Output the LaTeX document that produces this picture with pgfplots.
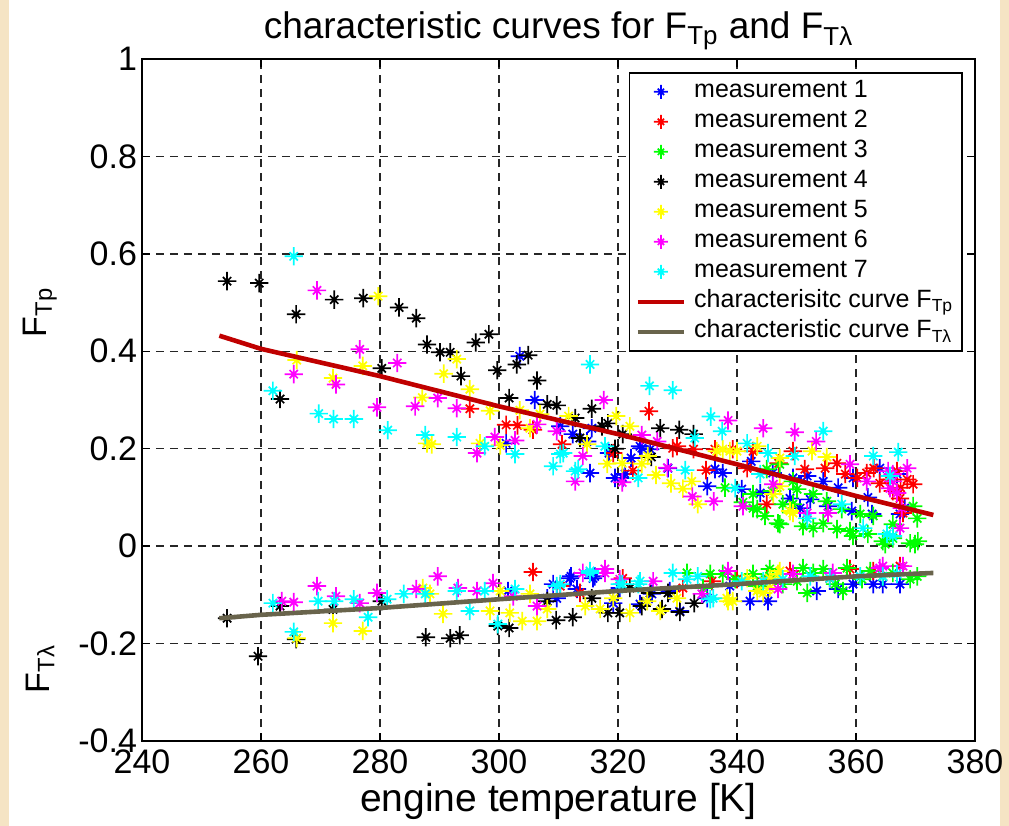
\documentclass[border=0pt]{standalone}
\usepackage{fontspec}
\setmainfont{Liberation Sans}
\usepackage{pgfplots}
\pgfplotsset{compat=1.18}

\definecolor{fitred}{RGB}{192,0,0}
\definecolor{fitolive}{RGB}{105,100,76}
\definecolor{framebeige}{RGB}{245,228,196}
\definecolor{mblue}{RGB}{0,0,255}
\definecolor{mred}{RGB}{255,0,0}
\definecolor{mgreen}{RGB}{0,255,0}
\definecolor{myellow}{RGB}{255,255,0}
\definecolor{mmagenta}{RGB}{255,0,255}
\definecolor{mcyan}{RGB}{0,255,255}

% matlab-like '*' marker: long plus, short cross
\pgfdeclareplotmark{mstar}{%
  \pgfpathmoveto{\pgfqpoint{-\pgfplotmarksize}{0pt}}%
  \pgfpathlineto{\pgfqpoint{\pgfplotmarksize}{0pt}}%
  \pgfpathmoveto{\pgfqpoint{0pt}{-\pgfplotmarksize}}%
  \pgfpathlineto{\pgfqpoint{0pt}{\pgfplotmarksize}}%
  \pgfpathmoveto{\pgfqpoint{-0.45\pgfplotmarksize}{-0.45\pgfplotmarksize}}%
  \pgfpathlineto{\pgfqpoint{0.45\pgfplotmarksize}{0.45\pgfplotmarksize}}%
  \pgfpathmoveto{\pgfqpoint{-0.45\pgfplotmarksize}{0.45\pgfplotmarksize}}%
  \pgfpathlineto{\pgfqpoint{0.45\pgfplotmarksize}{-0.45\pgfplotmarksize}}%
  \pgfusepathqstroke}

\pgfplotsset{
  meas/.style={only marks, mark=mstar, mark size=4.6pt,
    mark options={line width=0.85pt, #1}, color=#1,
    legend image code/.code={%
      \path (0pt,0pt) (25.5pt,0pt);
      \draw[##1, only marks, mark size=3.5pt] plot coordinates {(11.5pt,0pt)};}},
  fit/.style={color=#1, line width=2.3pt, no marks,
    legend image code/.code={%
      \path (0pt,0pt) (25.5pt,0pt);
      \draw[##1] (0pt,0pt) -- (23pt,0pt);}},
}

\begin{document}
\begin{tikzpicture}
\useasboundingbox (-71pt,-42.5pt) rectangle (433.5pt,370.5pt);
\fill[framebeige] (-71pt,-42.5pt) rectangle (-66.5pt,370.5pt);
\fill[framebeige] (429pt,-42.5pt) rectangle (433.5pt,370.5pt);

\begin{axis}[
  scale only axis, width=416.5pt, height=341pt,
  xmin=240, xmax=380, ymin=-0.4, ymax=1,
  xtick={240,260,280,300,320,340,360,380},
  ytick={-0.4,-0.2,0,0.2,0.4,0.6,0.8,1},
  /pgf/number format/assume math mode=true,
  tick label style={font=\fontsize{17}{20}\selectfont},
  yticklabel style={xshift=1pt},
  xticklabel style={yshift=-1pt},
  grid=major,
  major grid style={black!85, dash pattern=on 4pt off 3pt, line width=0.7pt},
  tick align=inside, major tick length=4pt,
  tick style={black, line width=0.7pt},
  axis line style={line width=0.8pt},
  title={characteristic curves for F\textsubscript{Tp} and F\textsubscript{Tλ}},
  title style={font=\fontsize{18.5}{22}\selectfont, at={(0.5,1)}, anchor=base, yshift=4pt},
  xlabel={engine temperature [K]},
  xlabel style={font=\fontsize{19.5}{23}\selectfont, at={(0.5,0)}, anchor=base, yshift=-35pt},
  legend style={at={(1,1)}, anchor=north east, xshift=-6pt, yshift=-6.5pt,
    draw=black, line width=0.8pt, font=\fontsize{12.5}{15}\selectfont,
    cells={anchor=west}, inner xsep=3pt, inner ysep=2pt,
    nodes={inner sep=1.5pt, text height=9pt, text depth=3pt}},
  clip mode=individual,
]

% measurement 1
\addplot[meas=mblue] coordinates {
(303.5,0.39) (306,0.30) (301.2,0.211) (310.3,0.246) (312.4,0.23) (315.3,0.15)
(322.2,0.181) (324,0.201) (325.4,0.199) (335,0.123) (336.3,0.158) (319.5,0.14)
(321.2,0.148) (314.8,0.215) (318.5,0.191) (315.6,0.242) (320.8,0.14) (323.7,0.205)
(328.4,0.16) (337.6,0.15) (340.8,0.117) (342.4,0.174) (343.9,0.109) (348.9,0.098)
(350.6,0.078) (352.3,0.096) (354.5,0.133) (355.3,0.082) (359.3,0.072) (362.7,0.066)
(364,0.16) (367.4,0.066) (368.2,0.078) (366.9,0.148) (359.5,0.14) (349.4,0.14)
(351.8,0.144) (346,0.15) (357,0.12) (362,0.1)
(308.1,-0.107) (311.9,-0.066) (315.8,-0.066) (313.1,-0.088) (319.2,-0.117)
(323.7,-0.119) (330.4,-0.133) (309.1,-0.078) (320.3,-0.086) (335,-0.107)
(301.5,-0.092) (312.1,-0.062) (316.1,-0.062) (325.7,-0.098) (342.2,-0.113)
(345.2,-0.113) (353.4,-0.092) (357,-0.088) (359.5,-0.078) (362.9,-0.078)
(364.5,-0.078) (367.4,-0.078) (309.7,-0.107) (328.7,-0.092) (338.8,-0.082)
};
\addlegendentry{measurement 1}

% measurement 2
\addplot[meas=mred] coordinates {
(295.1,0.282) (301.2,0.249) (303.1,0.248) (305.7,0.239) (310.6,0.209) (325.2,0.277)
(322.5,0.155) (329.2,0.201) (332.7,0.199) (334.8,0.156) (319.2,0.191) (336.3,0.199)
(341.7,0.16) (345,0.086) (342.7,0.195) (351.4,0.158) (354.8,0.16) (356.8,0.17)
(358.2,0.148) (360.2,0.14) (361.8,0.15) (364,0.129) (366.9,0.154) (368.6,0.137)
(369.6,0.127) (367.4,0.098) (366.2,0.113) (365.4,0.137) (367.9,0.068) (349.4,0.195)
(339.3,0.199) (329.9,0.205) (347,0.17) (363,0.16) (367.5,0.12)
(305.7,-0.053) (313.6,-0.096) (320.8,-0.066) (335.8,-0.072) (348.9,-0.051)
(355.6,-0.066) (367.4,-0.041) (345,-0.066) (359,-0.047) (362.9,-0.051)
(340,-0.068) (330.9,-0.086) (310.3,-0.082)
};
\addlegendentry{measurement 2}

% measurement 3
\addplot[meas=mgreen] coordinates {
(342.7,0.078) (344.7,0.062) (347.2,0.045) (351.1,0.041) (352.8,0.037) (354.5,0.047)
(356.8,0.035) (359,0.031) (359.5,0.021) (362,0.025) (364.5,0.01) (366.2,0.016)
(369.1,0.006) (370.4,0.01) (370.3,0.057) (369.6,0.082) (347.2,0.168) (349.4,0.133)
(352.8,0.107) (355.1,0.092) (345,0.158) (345.9,0.113) (342.7,0.107) (349.4,0.086)
(357.6,0.076) (360.7,0.066) (362.9,0.062) (366.2,0.045) (343.4,0.076) (346.9,0.047)
(364.9,0.004) (369.9,0.004) (347.7,0.086) (350.1,0.117) (338,0.12) (341,0.09)
(343.4,-0.082) (345.5,-0.062) (347.7,-0.078) (350.1,-0.072) (351.8,-0.096)
(352.8,-0.055) (356.5,-0.078) (357.8,-0.092) (361,-0.068) (362.4,-0.051)
(364.5,-0.062) (366.2,-0.055) (369.1,-0.068) (370.3,-0.062) (345.5,-0.047)
(342.7,-0.057) (339.7,-0.068) (335.5,-0.057) (337.6,-0.057) (358.5,-0.045)
(331.6,-0.055) (334.3,-0.086) (351.1,-0.045) (354.5,-0.047)
};
\addlegendentry{measurement 3}

% measurement 4
\addplot[meas=black] coordinates {
(254.3,0.544) (259.7,0.54) (265.9,0.476) (272.3,0.506) (277.2,0.509) (283.2,0.49)
(286.1,0.468) (287.9,0.414) (280.3,0.365) (263.2,0.302) (290.1,0.398) (291.8,0.398)
(293.6,0.349) (296.1,0.418) (298.3,0.435) (299.7,0.361) (303,0.373) (304.9,0.392)
(306.4,0.34) (301.7,0.304) (308.1,0.291) (309.7,0.289) (312.8,0.263) (315.6,0.282)
(313.6,0.222) (317.3,0.246) (318.3,0.252) (320.8,0.23) (327.1,0.242) (330.3,0.239)
(332.7,0.23) (319.5,0.2) (325.6,0.183)
(254.3,-0.148) (259.5,-0.226) (265.9,-0.191) (263.2,-0.123) (280.3,-0.113)
(287.7,-0.187) (272.1,-0.13) (291.8,-0.189) (293.4,-0.183) (301.7,-0.168)
(299.8,-0.164) (309.6,-0.152) (312.4,-0.146) (318.3,-0.137) (320.3,-0.137)
(324,-0.123) (327.4,-0.129) (330.4,-0.135) (332.8,-0.117) (315.6,-0.107)
(308.1,-0.113) (328.4,-0.096) (325.4,-0.096) (322,-0.086)
};
\addlegendentry{measurement 4}

% measurement 5
\addplot[meas=myellow] coordinates {
(279.7,0.513) (277.1,0.37) (266,0.382) (272.1,0.345) (287.1,0.305) (287.9,0.211)
(292.9,0.384) (290.7,0.354) (295.1,0.322) (296.8,0.211) (298.5,0.278) (303.5,0.279)
(306.9,0.271) (311.7,0.267) (300.2,0.207) (305.2,0.242) (314.8,0.209) (319.7,0.267)
(322,0.246) (318.2,0.169) (320.7,0.17) (324,0.169) (326.4,0.146) (328.9,0.129)
(330.9,0.118) (333.4,0.086) (325,0.185) (332.4,0.133) (337.6,0.199) (343.4,0.205)
(346.1,0.107) (347.2,0.123) (349.4,0.068) (352.6,0.195) (355.1,0.183) (336.6,0.195)
(338.8,0.195) (340,0.195) (347.2,0.181) (348.9,0.072) (288.7,0.209)
(272.1,-0.158) (277.1,-0.174) (266,-0.189) (287.2,-0.086) (288.4,-0.098)
(290.6,-0.139) (298.5,-0.133) (300.2,-0.092) (301.8,-0.137) (303.9,-0.154)
(306.4,-0.154) (305.2,-0.098) (308.1,-0.129) (314.5,-0.123) (317,-0.129)
(322,-0.137) (327.1,-0.133) (329.9,-0.107) (338.3,-0.107) (339.3,-0.113)
(343.4,-0.092) (345.5,-0.086) (324.9,-0.113) (319.2,-0.107) (345.5,-0.066)
(347.2,-0.051) (341.7,-0.066) (338.5,-0.113) (346.9,-0.057) (344.4,-0.096)
};
\addlegendentry{measurement 5}

% measurement 6
\addplot[meas=mmagenta] coordinates {
(269.4,0.525) (276.6,0.404) (282.9,0.376) (265.5,0.353) (272.6,0.332) (279.5,0.285)
(285.9,0.287) (289.7,0.304) (292.9,0.283) (296.3,0.191) (299.3,0.224) (302.7,0.217)
(306.4,0.25) (309.7,0.236) (314.1,0.185) (317.6,0.3) (320.7,0.131) (324,0.228)
(326.6,0.215) (328.3,0.161) (332.5,0.102) (336.1,0.092) (338.5,0.258) (344.4,0.242)
(349.7,0.234) (353.3,0.215) (341,0.082) (351.8,0.068) (355.3,0.068) (359,0.168)
(365.4,0.154) (366.2,0.133) (366.9,0.109) (367.7,0.078) (367.4,0.037) (366.2,0.148)
(365.7,0.119) (368.6,0.16) (361.8,0.133) (346.1,0.127) (312.8,0.133)
(269.4,-0.082) (263.5,-0.113) (265.5,-0.115) (272.6,-0.103) (276.6,-0.117)
(279.5,-0.096) (286.1,-0.088) (289.7,-0.062) (293.1,-0.086) (296.3,-0.092)
(299,-0.076) (302.4,-0.103) (306.4,-0.123) (314.1,-0.055) (317.8,-0.055)
(325.9,-0.072) (320.3,-0.068) (317.8,-0.047) (338.5,-0.051) (334.1,-0.098)
(346.9,-0.088) (349.4,-0.057) (367.9,-0.041) (364,-0.045) (364.5,-0.041)
(356.1,-0.055)
};
\addlegendentry{measurement 6}

% measurement 7
\addplot[meas=mcyan] coordinates {
(265.5,0.595) (262,0.319) (269.7,0.272) (272.2,0.261) (275.6,0.261) (281.3,0.238)
(287.6,0.228) (292.9,0.224) (297.6,0.205) (302.7,0.189) (309.1,0.164) (310.8,0.191)
(312.8,0.154) (315.3,0.373) (317.8,0.205) (323.4,0.14) (325.3,0.329) (329.2,0.32)
(335.6,0.266) (331.3,0.156) (337.5,0.236) (332.9,0.222) (339.7,0.119) (341.7,0.211)
(345.2,0.191) (349.7,0.185) (354.5,0.236) (357.6,0.086) (361.2,0.037) (362.9,0.185)
(365.2,0.025) (366.2,0.021) (367.1,0.193) (365.7,0.144) (313.3,0.158) (310.3,0.189)
(343.9,0.148) (351.8,0.057)
(262,-0.117) (265.5,-0.176) (269.6,-0.113) (272.3,-0.113) (275.6,-0.109)
(278,-0.146) (281.2,-0.109) (284,-0.098) (287.6,-0.098) (292.9,-0.092)
(295.1,-0.133) (297.6,-0.092) (299.8,-0.16) (302.7,-0.088) (310.3,-0.078)
(315.3,-0.055) (320.3,-0.078) (323.4,-0.078) (329.2,-0.055) (333.4,-0.062)
(336,-0.107) (315.3,-0.051) (331.6,-0.068) (335.5,-0.109) (340.8,-0.072)
(344.4,-0.072) (347.7,-0.068) (352.3,-0.062) (355.6,-0.066) (360.7,-0.062)
(364.5,-0.062) (366.9,-0.057) (309.7,-0.082) (320.7,-0.078) (323.7,-0.072)
};
\addlegendentry{measurement 7}

% characteristic curves
\addplot[fit=fitred] coordinates {
(253,0.432) (260,0.405) (280,0.349) (300,0.287) (320,0.23) (340,0.168) (360,0.103) (373,0.064)
};
\addlegendentry{characterisitc curve F\textsubscript{Tp}}

\addplot[fit=fitolive] coordinates {
(253,-0.148) (260,-0.141) (280,-0.127) (300,-0.109) (320,-0.092) (340,-0.078) (360,-0.062) (373,-0.055)
};
\addlegendentry{characteristic curve F\textsubscript{Tλ}}

\end{axis}

\node[rotate=90, font=\fontsize{17}{20}\selectfont] at (-51pt,214.3pt) {F\textsubscript{Tp}};
\node[rotate=90, font=\fontsize{17}{20}\selectfont] at (-51pt,36pt) {F\textsubscript{Tλ}};
\end{tikzpicture}
\end{document}
